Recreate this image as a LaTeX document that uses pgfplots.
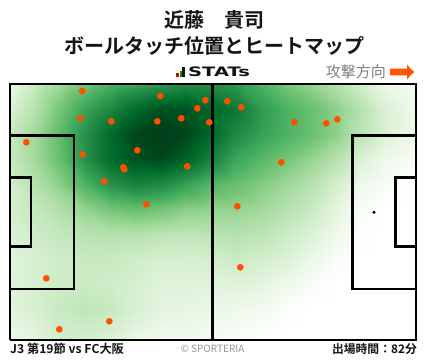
\documentclass[border=0pt]{standalone}
\usepackage{fontspec}
\setmainfont{Noto Sans CJK JP}[BoldFont={Noto Sans CJK JP Bold}]
\newfontfamily\dejavu{DejaVu Sans}
\usepackage{pgfplots}
\pgfplotsset{compat=1.18}
\definecolor{dotorange}{RGB}{255,80,0}
\definecolor{arroworange}{RGB}{255,85,0}
\definecolor{txtgray}{RGB}{128,128,128}
\definecolor{cgray}{RGB}{150,150,150}
\definecolor{darktxt}{RGB}{20,20,20}
\begin{document}
\begin{tikzpicture}[x=1pt,y=1pt]
\path[use as bounding box] (0,0) rectangle (428,359);
\begin{axis}[
  at={(10pt,19pt)}, anchor=south west,
  width=406pt, height=256pt, scale only axis,
  xmin=10, xmax=416, ymin=19, ymax=275, zmin=-1, zmax=1,
  view={0}{90}, hide axis, clip=false,
  colormap={greens}{rgb255(0)=(255,255,255) rgb255(1)=(247,252,245) rgb255(3)=(229,245,224) rgb255(6)=(199,233,192) rgb255(10)=(161,217,155) rgb255(14)=(116,196,118) rgb255(19)=(65,171,93) rgb255(24)=(35,139,69) rgb255(30)=(0,109,44) rgb255(36)=(0,68,27) rgb255(40)=(0,60,24)},
  point meta min=0, point meta max=1,
]
% heat map density grid
\addplot3[surf, shader=interp, mesh/cols=17, point meta=explicit] table[x=x, y=y, z expr=0, meta=c] {
x y c
10 275 0.05
35 275 0.15
60 275 0.25
85 275 0.35
110 275 0.45
135 275 0.50
160 275 0.55
185 275 0.60
210 275 0.60
235 275 0.55
260 275 0.45
285 275 0.35
310 275 0.28
335 275 0.20
360 275 0.12
385 275 0.06
416 275 0.03
10 250 0.10
35 250 0.20
60 250 0.35
85 250 0.50
110 250 0.62
135 250 0.75
160 250 0.85
185 250 0.85
210 250 0.78
235 250 0.70
260 250 0.55
285 250 0.45
310 250 0.38
335 250 0.30
360 250 0.20
385 250 0.10
416 250 0.05
10 225 0.15
35 225 0.25
60 225 0.40
85 225 0.58
110 225 0.75
135 225 0.90
160 225 0.98
185 225 0.90
210 225 0.78
235 225 0.62
260 225 0.52
285 225 0.45
310 225 0.38
335 225 0.30
360 225 0.18
385 225 0.10
416 225 0.05
10 200 0.15
35 200 0.25
60 200 0.38
85 200 0.58
110 200 0.75
135 200 0.85
160 200 0.88
185 200 0.80
210 200 0.65
235 200 0.50
260 200 0.42
285 200 0.35
310 200 0.28
335 200 0.20
360 200 0.10
385 200 0.05
416 200 0.02
10 175 0.12
35 175 0.20
60 175 0.30
85 175 0.45
110 175 0.58
135 175 0.65
160 175 0.62
185 175 0.52
210 175 0.42
235 175 0.38
260 175 0.32
285 175 0.26
310 175 0.20
335 175 0.12
360 175 0.05
385 175 0.02
416 175 0.00
10 150 0.12
35 150 0.16
60 150 0.21
85 150 0.28
110 150 0.35
135 150 0.38
160 150 0.35
185 150 0.30
210 150 0.28
235 150 0.28
260 150 0.25
285 150 0.20
310 150 0.15
335 150 0.08
360 150 0.02
385 150 0.00
416 150 0.00
10 125 0.10
35 125 0.13
60 125 0.16
85 125 0.19
110 125 0.20
135 125 0.20
160 125 0.18
185 125 0.17
210 125 0.18
235 125 0.20
260 125 0.18
285 125 0.14
310 125 0.10
335 125 0.05
360 125 0.01
385 125 0.00
416 125 0.00
10 100 0.09
35 100 0.11
60 100 0.13
85 100 0.15
110 100 0.15
135 100 0.13
160 100 0.11
185 100 0.11
210 100 0.12
235 100 0.14
260 100 0.12
285 100 0.10
310 100 0.06
335 100 0.02
360 100 0.00
385 100 0.00
416 100 0.00
10 75 0.09
35 75 0.11
60 75 0.13
85 75 0.14
110 75 0.13
135 75 0.11
160 75 0.09
185 75 0.09
210 75 0.09
235 75 0.09
260 75 0.08
285 75 0.05
310 75 0.02
335 75 0.00
360 75 0.00
385 75 0.00
416 75 0.00
10 50 0.08
35 50 0.11
60 50 0.15
85 50 0.17
110 50 0.15
135 50 0.11
160 50 0.08
185 50 0.07
210 50 0.06
235 50 0.05
260 50 0.04
285 50 0.01
310 50 0.00
335 50 0.00
360 50 0.00
385 50 0.00
416 50 0.00
10 19 0.05
35 19 0.08
60 19 0.12
85 19 0.12
110 19 0.10
135 19 0.06
160 19 0.04
185 19 0.04
210 19 0.03
235 19 0.02
260 19 0.00
285 19 0.00
310 19 0.00
335 19 0.00
360 19 0.00
385 19 0.00
416 19 0.00
};
% pitch lines
\pgfplotsset{pitch/.style={draw=black, line width=2.6pt, mark=none, line join=miter}}
\addplot3[pitch] coordinates {(10,19,0) (416,19,0) (416,275,0) (10,275,0) (10,19,0)};
\addplot3[pitch, line width=2.2pt] coordinates {(212.5,19,0) (212.5,275,0)};
\addplot3[pitch] coordinates {(10,223.3,0) (74,223.3,0) (74,70,0) (10,70,0)};
\addplot3[pitch] coordinates {(10,181.3,0) (31,181.3,0) (31,112.3,0) (10,112.3,0)};
\addplot3[pitch] coordinates {(416,223.3,0) (352.3,223.3,0) (352.3,70,0) (416,70,0)};
\addplot3[pitch] coordinates {(416,181.3,0) (395.7,181.3,0) (395.7,112.3,0) (416,112.3,0)};
\addplot3[only marks, mark=*, mark size=1.4pt, black] coordinates {(374,146.7,0)};
% ball touches
\addplot3[only marks, mark=*, mark size=3.1pt, color=dotorange, mark options={draw=dotorange, fill=dotorange}] coordinates {
(82.3,268,0) (160.3,263,0) (205.3,258.7,0) (197.3,250.7,0) (80.3,240.7,0)
(111.3,237.7,0) (157.3,237.7,0) (181.3,240.7,0) (209.3,236.7,0) (26.3,216.7,0)
(82.3,204.7,0) (137.3,208.7,0) (123.3,191.7,0) (124.3,189.7,0) (187.3,192.7,0)
(104.3,177.7,0) (146.3,154.7,0) (227.3,257.7,0) (241.3,251.7,0) (294.3,236.7,0)
(326.3,235.7,0) (337.3,239.7,0) (281.3,196.7,0) (237.3,152.7,0) (46.3,80.7,0)
(109.3,37.7,0) (59.3,29.7,0) (240.3,91.7,0)
};
\end{axis}
% titles
\node[font=\bfseries\fontsize{20}{20}\selectfont, text=darktxt, inner sep=0] at (214,339) {近藤　貴司};
\node[font=\bfseries\fontsize{20}{20}\selectfont, text=darktxt, inner sep=0] at (214,313.5) {ボールタッチ位置とヒートマップ};
% STATs logo
\fill[red!85!black] (176.3,282) rectangle (178.7,286.3);
\fill[green!60!black] (179.5,282) rectangle (181.5,288);
\fill[darktxt] (182.3,282) rectangle (185,291.7);
\node[anchor=base west, inner sep=0, text=darktxt] at (188,282) {\scalebox{1.5}[1]{\dejavu\bfseries\fontsize{13}{13}\selectfont STATs}};
% attack direction
\node[anchor=east, inner sep=0, text=txtgray, font=\fontsize{15}{15}\selectfont] at (386,287) {攻撃方向};
\fill[arroworange] (390,290.3) -- (407,290.3) -- (407,294.3) -- (414,287) -- (407,279.7) -- (407,283.7) -- (390,283.7) -- cycle;
% footer
\node[anchor=west, inner sep=0, text=darktxt, font=\bfseries\fontsize{12.2}{12.2}\selectfont] at (10,10.3) {J3 第19節 vs FC大阪};
\node[inner sep=0, text=cgray, font=\fontsize{10}{10}\selectfont] at (212.5,10.5) {© SPORTERIA};
\node[anchor=east, inner sep=0, text=darktxt, font=\bfseries\fontsize{11.8}{11.8}\selectfont] at (417,10.3) {出場時間：82分};
\end{tikzpicture}
\end{document}
